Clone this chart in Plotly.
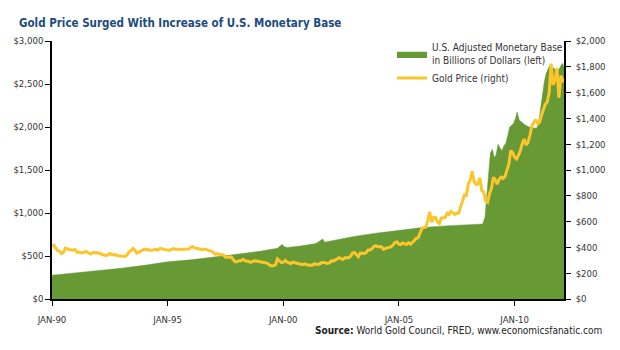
import pandas as pd
import plotly.graph_objects as go

# ---------------- data ----------------
gold_price = [
    410, 417, 393, 374, 369, 352, 362, 395, 389, 381, 381, 378,   # 1990
    383, 363, 363, 358, 357, 366, 368, 356, 349, 359, 360, 361,   # 1991
    354, 354, 345, 338, 337, 341, 353, 343, 345, 344, 335, 334,   # 1992
    329, 330, 330, 342, 367, 372, 392, 379, 355, 364, 374, 383,   # 1993
    387, 382, 384, 377, 381, 386, 385, 380, 391, 389, 384, 379,   # 1994
    379, 377, 382, 391, 385, 387, 386, 383, 383, 383, 386, 387,   # 1995
    400, 405, 396, 393, 392, 385, 383, 387, 383, 381, 378, 369,   # 1996
    355, 347, 352, 344, 344, 341, 324, 324, 323, 325, 306, 289,   # 1997
    289, 297, 296, 308, 299, 292, 293, 284, 289, 296, 294, 291,   # 1998
    287, 287, 286, 282, 277, 262, 256, 257, 265, 311, 293, 283,   # 1999
    285, 299, 286, 280, 275, 285, 282, 274, 273, 270, 266, 272,   # 2000
    266, 262, 263, 261, 272, 270, 268, 273, 283, 283, 276, 275,   # 2001
    282, 296, 294, 302, 314, 321, 314, 307, 319, 317, 319, 333,   # 2002
    357, 359, 340, 328, 355, 356, 351, 360, 379, 379, 390, 407,   # 2003
    414, 405, 406, 404, 384, 392, 398, 400, 406, 420, 439, 442,   # 2004
    424, 423, 434, 429, 423, 437, 425, 438, 456, 470, 476, 510,   # 2005
    549, 555, 557, 610, 676, 596, 633, 632, 598, 586, 628, 629,   # 2006
    631, 665, 655, 679, 667, 655, 665, 665, 712, 754, 806, 803,   # 2007
    889, 922, 990, 909, 888, 890, 939, 839, 829, 760, 750, 816,   # 2008
    858, 943, 925, 890, 928, 946, 934, 949, 996, 1043, 1150, 1135, # 2009
    1100, 1085, 1113, 1148, 1205, 1240, 1193, 1215, 1271, 1343, 1370, 1391,  # 2010
    1356, 1372, 1424, 1474, 1510, 1528, 1600, 1825, 1660, 1700, 1790, 1560,  # 2011
    1730, 1680,                                                    # 2012
]
gold_dates = list(pd.date_range("1990-01-01", periods=len(gold_price) - 1, freq="MS")) + [pd.Timestamp("2012-02-20")]

base_dates = [
    "1990-01-01", "1991-01-01", "1992-01-01", "1993-01-01", "1994-01-01",
    "1995-01-01", "1996-01-01", "1997-01-01", "1998-01-01", "1999-01-01",
    "1999-10-01", "1999-12-15", "2000-01-15", "2000-03-01", "2000-09-01",
    "2001-06-01", "2001-09-15", "2001-10-15", "2002-06-01", "2003-01-01",
    "2004-01-01", "2005-01-01", "2006-01-01", "2007-01-01", "2008-01-01",
    "2008-08-15", "2008-09-20", "2008-10-15", "2008-11-15", "2008-12-15",
    "2009-01-15", "2009-02-15", "2009-03-15", "2009-04-15", "2009-05-15",
    "2009-06-15", "2009-07-15", "2009-08-15", "2009-09-15", "2009-10-15",
    "2009-11-15", "2009-12-15", "2010-01-15", "2010-02-10", "2010-03-15",
    "2010-04-15", "2010-06-15", "2010-08-15", "2010-10-15", "2010-12-15",
    "2011-01-15", "2011-02-15", "2011-04-15", "2011-05-15", "2011-07-15",
    "2011-08-15", "2011-09-15", "2011-10-15", "2011-11-15", "2011-12-15",
    "2012-01-25", "2012-02-20",
]
base_values = [
    276, 302, 330, 358, 392,
    432, 455, 485, 520, 555,
    590, 636, 608, 600, 612,
    645, 698, 660, 695, 725,
    765, 800, 830, 850, 865,
    872, 950, 1150, 1450, 1700,
    1740, 1640, 1680, 1800, 1760,
    1720, 1780, 1810, 1900, 2000,
    2020, 2040, 2100, 2174, 2080,
    2060, 2023, 2000, 1990, 1984,
    2050, 2236, 2527, 2624, 2721,
    2700, 2680, 2663, 2640, 2690,
    2740, 2700,
]

x_tick_vals = ["1990-01-01", "1995-01-01", "2000-01-01", "2005-01-01", "2010-01-01"]
x_tick_text = ["JAN-90", "JAN-95", "JAN-00", "JAN-05", "JAN-10"]
left_tick_vals = [0, 500, 1000, 1500, 2000, 2500, 3000]
left_tick_text = ["$0", "$500", "$1,000", "$1,500", "$2,000", "$2,500", "$3,000"]
right_tick_vals = [0, 200, 400, 600, 800, 1000, 1200, 1400, 1600, 1800, 2000]
right_tick_text = ["$0", "$200", "$400", "$600", "$800", "$1,000", "$1,200",
                   "$1,400", "$1,600", "$1,800", "$2,000"]

FONT = "DejaVu Sans Condensed, Liberation Sans, sans-serif"
GREEN = "#679a35"
GOLD = "#fcc52c"


def fnt(size, color="#333333", **kw):
    return dict(family=FONT, size=size, color=color, **kw)


fig = go.Figure()
fig.add_trace(go.Scatter(
    x=base_dates, y=base_values, mode="lines", fill="tozeroy",
    line=dict(color=GREEN, width=0.5), fillcolor=GREEN,
    name="U.S. Adjusted Monetary Base<br>in Billions of Dollars (left)",
    yaxis="y",
))
fig.add_trace(go.Scatter(
    x=gold_dates, y=gold_price, mode="lines",
    line=dict(color=GOLD, width=3),
    name="Gold Price (right)", yaxis="y2",
))

axis_common = dict(
    showgrid=False, zeroline=False, showline=True, linecolor="black", linewidth=1.5,
    ticks="outside", ticklen=5, tickwidth=1, tickcolor="black",
    tickfont=fnt(9.5),
)

fig.update_layout(
    width=620, height=350,
    margin=dict(l=52, r=56, t=41, b=51),
    paper_bgcolor="white", plot_bgcolor="white",
    showlegend=True,
    legend=dict(x=0.664, y=1.025, xanchor="left", yanchor="top",
                bgcolor="rgba(0,0,0,0)", font=fnt(10),
                tracegroupgap=0, itemwidth=30),
    xaxis=dict(range=["1990-01-01", "2012-02-20"], tickvals=x_tick_vals,
               ticktext=x_tick_text, ticklabelstandoff=6, **axis_common),
    yaxis=dict(range=[0, 3000], tickvals=left_tick_vals, ticktext=left_tick_text,
               **axis_common),
    yaxis2=dict(range=[0, 2000], tickvals=right_tick_vals, ticktext=right_tick_text,
                overlaying="y", side="right", ticklabelstandoff=3, **axis_common),
    annotations=[
        dict(text="Gold Price Surged With Increase of U.S. Monetary Base",
             xref="paper", yref="paper", x=-0.069, y=1.07, xanchor="left", yanchor="middle",
             showarrow=False, font=fnt(11.5, "#1c4b7f", weight="bold")),
        dict(text="<b>Source:</b> World Gold Council, FRED, www.economicsfanatic.com",
             xref="paper", yref="paper", x=1.078, y=-0.093, xanchor="right", yanchor="top",
             showarrow=False, font=fnt(10, "#222222")),
    ],
)

fig.write_html("out.html")
